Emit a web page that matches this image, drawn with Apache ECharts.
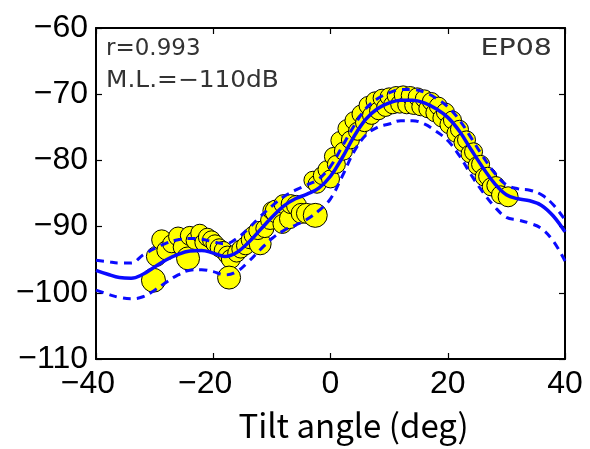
<!DOCTYPE html>
<html>
<head>
<meta charset="utf-8">
<script src="https://cdn.jsdelivr.net/npm/echarts@6/dist/echarts.min.js"></script>
<style>html,body{margin:0;padding:0;background:#fff;}#c{width:590px;height:449px;}</style>
</head>
<body>
<div id="c"></div>
<script>
// ---- data ----
const xTicks = [-40, -20, 0, 20, 40];
const yTicks = [-110, -100, -90, -80, -70, -60];
const xTitle = 'Tilt angle (deg)';
const annotR = 'r=0.993';
const annotML = 'M.L.=\u2212110dB';
const annotEP = 'EP08';

const curveX = [-40,-38,-36,-34,-32,-30,-28,-26,-24,-22,-20,-18,-16,-14,-12,-10,-8,-6,-4,-2,0,2,4,6,8,10,12,14,16,18,20,22,24,26,28,30,32,34,36,38,40];
const fitY = [-96.6,-97.2,-97.7,-97.8,-97.2,-96.1,-95.0,-94.2,-93.7,-93.6,-94.0,-94.5,-93.9,-92.4,-90.5,-88.6,-86.9,-85.8,-85.1,-84.2,-82.4,-79.6,-76.4,-73.8,-72.2,-71.3,-70.9,-70.9,-71.3,-72.2,-73.5,-75.6,-78.4,-81.1,-83.5,-85.2,-85.8,-86.1,-86.8,-88.4,-90.8];
const upperY = [-95.1,-95.3,-95.5,-95.5,-94.3,-93.3,-92.5,-92.0,-91.8,-91.9,-92.3,-92.6,-91.8,-90.3,-88.5,-86.9,-85.5,-84.5,-83.7,-82.8,-80.9,-77.9,-74.8,-72.2,-70.7,-69.8,-69.3,-69.3,-69.7,-70.6,-71.9,-73.9,-76.6,-79.4,-81.9,-83.7,-84.3,-84.5,-85.2,-86.7,-89.0];
const lowerY = [-99.6,-100.2,-100.7,-100.9,-100.6,-99.6,-98.4,-97.3,-96.6,-96.5,-96.8,-97.3,-96.8,-95.3,-93.5,-91.8,-90.6,-89.8,-88.9,-87.6,-85.8,-82.4,-78.7,-76.2,-75.0,-74.5,-74.0,-74.0,-74.5,-75.6,-77.0,-79.3,-82.2,-84.8,-87.0,-88.6,-89.0,-89.5,-90.3,-92.2,-95.2];

const xPts = [-30.2,-29.7,-28.8,-28.0,-27.1,-26.0,-25.3,-24.3,-24.0,-23.1,-22.3,-21.6,-21.0,-20.3,-19.7,-19.0,-18.3,-17.6,-17.0,-17.3,-16.0,-15.3,-14.5,-13.7,-13.2,-12.0,-12.4,-11.2,-10.3,-10.0,-9.2,-8.2,-8.0,-7.0,-6.8,-5.8,-5.0,-4.1,-2.6,
  -3.0,-2.3,-1.4,-0.6,0.0,0.5,1.0,1.6,2.2,2.8,3.4,4.0,4.6,5.2,5.8,6.4,7.0,7.6,8.2,8.8,9.4,10.0,10.6,11.2,11.8,12.4,13.0,13.6,14.2,14.8,15.4,16.0,16.6,17.2,17.8,18.4,19.0,19.6,20.2,20.8,21.4,22.0,22.6,23.2,23.8,24.4,25.0,25.6,26.2,26.8,27.4,28.2,29.0,30.3];
const yPts = [-98.1,-94.5,-92.0,-93.6,-92.6,-91.5,-93.1,-94.8,-91.4,-92.1,-91.0,-92.4,-91.6,-92.0,-92.6,-93.2,-93.6,-94.3,-94.9,-97.7,-94.0,-93.4,-92.9,-92.0,-91.3,-92.6,-90.6,-90.3,-89.0,-87.6,-87.7,-89.6,-86.6,-88.8,-86.6,-86.8,-88.0,-88.0,-88.3,
  -83.0,-83.6,-82.3,-81.4,-82.8,-79.4,-80.6,-77.0,-78.6,-75.2,-76.9,-74.0,-75.6,-73.0,-74.3,-71.7,-73.2,-71.0,-72.5,-70.6,-72.0,-70.4,-71.6,-70.2,-71.5,-70.1,-71.6,-70.2,-71.7,-70.4,-71.9,-70.7,-72.2,-71.1,-72.8,-71.8,-73.6,-72.7,-74.6,-73.9,-75.9,-75.3,-77.3,-76.9,-79.0,-78.7,-80.8,-80.6,-82.5,-82.4,-84.0,-83.8,-85.2,-85.5];
const pointSizes = [24,20,20,19,18,19,18,23,19,18,18,18,18,18,18,18,18,18,19,23,18,18,18,18,18,22,18,18,19,18,23,19,19,20,19,20,20,20,24,
  18,18,18,18,18,18,18,18,18,18,18,18,18,18,18,18,18,18,18,18,18,18,18,18,18,18,18,18,18,18,18,18,18,18,18,18,18,18,18,18,18,18,18,18,18,18,18,18,18,18,18,18,18,20];

// ---- chart ----
const chart = echarts.init(document.getElementById('c'), null, {renderer: 'canvas'});
const fontMain = "'Liberation Sans', Arial, sans-serif";
const minus = v => (v < 0 ? '\u2212' + Math.abs(v) : String(v));
const xMin = xTicks[0], xMax = xTicks[xTicks.length - 1];
const yMin = yTicks[0], yMax = yTicks[yTicks.length - 1];
const xInt = xTicks[1] - xTicks[0], yInt = yTicks[1] - yTicks[0];

const axisLine = {show: true, onZero: false, lineStyle: {color: '#000', width: 2}};
const axisTick = {show: true, inside: true, length: 6, lineStyle: {color: '#000', width: 1.2}};

const lineData = arr => curveX.map((x, i) => [x, arr[i]]);

chart.setOption({
  animation: false,
  backgroundColor: '#fff',
  grid: {left: 96, right: 25, top: 28, bottom: 90},
  xAxis: [{
    type: 'value', min: xMin, max: xMax, interval: xInt, position: 'bottom',
    axisLine, axisTick, splitLine: {show: false},
    axisLabel: {
      margin: 9,
      formatter: v => v < 0 ? '{a|\u2212' + Math.abs(v) + '}{p| }' : '{a|' + v + '}',
      rich: {
        a: {fontFamily: fontMain, fontSize: 32, color: '#000'},
        p: {width: 16, fontSize: 32}
      }
    },
    name: xTitle, nameLocation: 'middle', nameGap: 50,
    nameTextStyle: {fontFamily: "'Noto Sans CJK JP', sans-serif", fontSize: 33, color: '#000', padding: [0, 0, 0, 46]}
  }, {
    type: 'value', min: xMin, max: xMax, interval: xInt, position: 'top',
    axisLine, axisTick, splitLine: {show: false}, axisLabel: {show: false}
  }],
  yAxis: [{
    type: 'value', min: yMin, max: yMax, interval: yInt, position: 'left',
    axisLine, axisTick, splitLine: {show: false},
    axisLabel: {margin: 8, formatter: minus, fontFamily: fontMain, fontSize: 32, color: '#000'}
  }, {
    type: 'value', min: yMin, max: yMax, interval: yInt, position: 'right',
    axisLine, axisTick, splitLine: {show: false}, axisLabel: {show: false}
  }],
  series: [{
    type: 'scatter', z: 2,
    data: xPts.map((x, i) => [x, yPts[i]]),
    symbolSize: (v, p) => pointSizes[p.dataIndex],
    itemStyle: {color: '#ffff00', borderColor: '#000', borderWidth: 1, opacity: 1}
  }, {
    type: 'line', z: 3, data: lineData(fitY), smooth: 0.4, symbol: 'none',
    lineStyle: {color: '#0a0aff', width: 3.5}
  }, {
    type: 'line', z: 3, data: lineData(upperY), smooth: 0.4, symbol: 'none',
    lineStyle: {color: '#0a0aff', width: 3, type: [8, 6]}
  }, {
    type: 'line', z: 3, data: lineData(lowerY), smooth: 0.4, symbol: 'none',
    lineStyle: {color: '#0a0aff', width: 3, type: [8, 6]}
  }],
  graphic: [{
    type: 'text', x: 106, y: 38, z: 10,
    style: {text: annotR, fontFamily: "'DejaVu Sans', sans-serif", fontSize: 23, fill: '#333'}
  }, {
    type: 'text', x: 106, y: 70, z: 10, scaleX: 1.08,
    style: {text: annotML, fontFamily: "'DejaVu Sans', sans-serif", fontSize: 23, fill: '#333'}
  }, {
    type: 'text', x: 552, y: 38, z: 10, scaleX: 1.24,
    style: {text: annotEP, fontFamily: "'DejaVu Sans', sans-serif", fontSize: 23, fill: '#333', textAlign: 'right', textVerticalAlign: 'top'}
  }]
});
</script>
</body>
</html>
